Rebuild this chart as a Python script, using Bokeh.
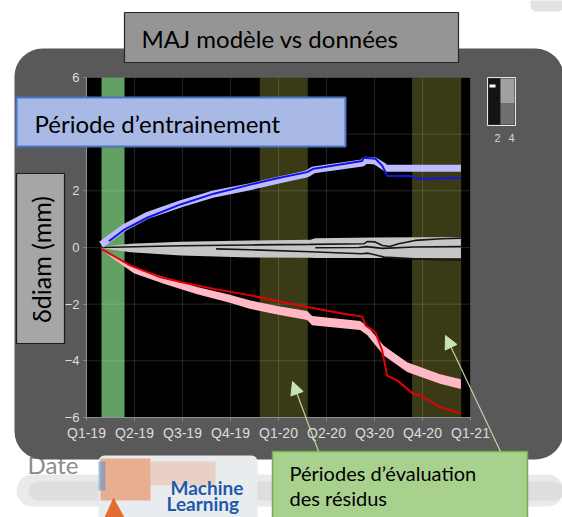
import math
from bokeh.plotting import figure
from bokeh.models import (Range1d, FixedTicker, BoxAnnotation, Label, Arrow, NormalHead,
                          PolyAnnotation)
from bokeh.embed import file_html
from bokeh.resources import INLINE

# ---------------- data (x in months since Jan 2019) ----------------
quarter_ticks = [0, 3, 6, 9, 12, 15, 18, 21, 24]
quarter_labels = ["Q1-19", "Q2-19", "Q3-19", "Q4-19", "Q1-20", "Q2-20", "Q3-20", "Q4-20", "Q1-21"]
y_ticks = [-6, -4, -2, 0, 2, 4, 6]

train_period = [0.94, 2.375]
eval_periods = [[10.83, 13.83], [20.35, 23.42]]

gray_x = [0.92, 2.75, 5.9, 10.25, 14.0, 14.3, 18.0, 23.4]
gray_upper = [0.03, 0.13, 0.2, 0.25, 0.27, 0.33, 0.35, 0.37]
gray_lower = [-0.03, -0.17, -0.28, -0.35, -0.36, -0.37, -0.37, -0.37]

lineA_x = [0.92, 5.9, 10.25, 14.0, 17.33, 17.54, 18.0, 18.5, 18.96, 19.5, 20.54, 22.2, 23.4]
lineA_y = [0.0, 0.06, 0.09, 0.11, 0.13, 0.21, 0.2, 0.07, 0.035, 0.13, 0.25, 0.31, 0.33]
lineB_x = [14.3, 17.0, 17.5, 18.5, 20.5, 23.4]
lineB_y = [-0.01, 0.0, 0.03, -0.03, 0.02, 0.03]
lineC_x = [8.1, 10.25, 14.0, 17.2, 17.6, 18.2, 18.6, 20.5, 22.1, 23.4]
lineC_y = [-0.05, -0.08, -0.15, -0.22, -0.2, -0.28, -0.34, -0.4, -0.43, -0.44]

blue_band_x = [0.92, 2.33, 3.79, 5.88, 7.96, 10.25, 12.0, 13.79, 14.2, 17.23, 17.44, 18.06, 18.6, 18.7, 23.4]
blue_band_y = [0.1, 0.69, 1.13, 1.54, 1.89, 2.15, 2.38, 2.6, 2.74, 2.98, 3.08, 3.05, 2.85, 2.8, 2.8]
blue_line_x = [1.4, 2.33, 3.79, 5.88, 7.96, 10.25, 12.0, 13.79, 14.2, 17.23, 17.33, 18.06, 18.48, 18.69, 18.8, 20.25, 20.67, 23.4]
blue_line_y = [0.22, 0.62, 1.05, 1.52, 1.9, 2.22, 2.45, 2.66, 2.78, 3.05, 3.17, 3.13, 2.89, 2.66, 2.52, 2.52, 2.43, 2.45]

pink_x = [0.92, 1.7, 2.96, 4.83, 6.92, 8.9, 10.25, 12.0, 13.79, 14.1, 17.1, 17.54, 18.58, 20.04, 22.1, 23.4]
pink_upper = [-0.03, -0.29, -0.71, -1.04, -1.39, -1.66, -1.87, -2.07, -2.24, -2.42, -2.59, -2.77, -3.47, -4.05, -4.47, -4.65]
pink_lower = [-0.07, -0.41, -0.91, -1.28, -1.65, -1.94, -2.17, -2.37, -2.56, -2.74, -2.91, -3.09, -3.81, -4.39, -4.81, -4.99]

red_x = [0.92, 1.7, 2.75, 4.63, 5.88, 7.96, 10.25, 12.0, 13.79, 16.08, 17.23, 17.44, 18.06, 18.48, 18.79, 19.42, 20.46, 20.9, 22.1, 23.4]
red_y = [-0.05, -0.3, -0.64, -1.05, -1.22, -1.46, -1.69, -1.9, -2.1, -2.34, -2.44, -2.75, -2.99, -3.64, -4.52, -4.69, -5.19, -5.22, -5.64, -5.85]

title_text = "MAJ modèle vs données"
train_text = "Période d\u2019entrainement"
ylabel_text = "\u03b4diam (mm)"
xlabel_text = "Date"
eval_text = ["Périodes d\u2019évaluation", "des résidus"]
logo_text = ["Machine", "Learning"]

SLIDE_FONT = "Lato"
AXIS_FONT = "Liberation Sans"

# ---------------- layout: the frame is the whole canvas ----------------
W, H = 562, 517
PL, PR, PT, PB = 86, 470, 77, 417          # pixel box of the data area
X0, X1 = quarter_ticks[0], quarter_ticks[-1]
Y0, Y1 = y_ticks[0], y_ticks[-1]
sx = (PR - PL) / (X1 - X0)
sy = (PB - PT) / (Y1 - Y0)
x_range = Range1d(X0 - PL / sx, X1 + (W - PR) / sx)
y_range = Range1d(Y0 - (H - PB) / sy, Y1 + PT / sy)

p = figure(width=W, height=H, x_range=x_range, y_range=y_range,
           output_backend="svg", toolbar_location=None, title=None,
           min_border=0, min_border_left=0, min_border_right=0,
           min_border_top=0, min_border_bottom=0,
           border_fill_color="white", background_fill_color="white", outline_line_color=None)
p.xgrid.visible = False
p.ygrid.visible = False


def cbox(l, r, t, b, fill, alpha=1.0, line=None, lw=1, radius=0, level="overlay"):
    box = BoxAnnotation(left=l, right=r, top=t, bottom=b,
                        left_units="canvas", right_units="canvas",
                        top_units="canvas", bottom_units="canvas",
                        fill_color=fill, fill_alpha=alpha,
                        line_color=line if line else "black", line_width=lw,
                        line_alpha=1.0 if line else 0,
                        border_radius=radius, level=level)
    p.add_layout(box)
    return box


def clabel(x, y, text, size, color="black", font=SLIDE_FONT, style="normal", angle=0,
           align="left", baseline="middle", level="overlay"):
    lab = Label(x=x, y=y, x_units="canvas", y_units="canvas", text=text,
                text_font=font, text_font_size=f"{size}px", text_color=color,
                text_font_style=style, angle=angle, text_align=align,
                text_baseline=baseline, level=level)
    p.add_layout(lab)
    return lab


# ---------------- background layer ----------------
cbox(530, 563, -5, 11, "#e3e3e3", radius=5, level="image")
clabel(27, 464, xlabel_text, 24, color="#8c8c8c", level="image")
cbox(16, 563, 474, 506, "#d6d6d6", alpha=0.5, radius=25, level="image")
cbox(28, 563, 481, 500, "#c4c4c4", alpha=0.3, radius=15, level="image")
cbox(14, 563, 48, 459, "#595959", radius=28, level="image")
p.add_layout(BoxAnnotation(left=X0, right=X1, bottom=Y0, top=Y1, fill_color="black",
                           fill_alpha=1, line_alpha=0, level="image"))
p.add_layout(BoxAnnotation(left=train_period[0], right=train_period[1], bottom=Y0, top=Y1,
                           fill_color="#63a063", fill_alpha=1, line_alpha=0, level="image"))
for a, b in eval_periods:
    p.add_layout(BoxAnnotation(left=a, right=b, bottom=Y0, top=Y1, fill_color="#3b3a16",
                               fill_alpha=1, line_alpha=0, level="image"))

# grid lines inside the data area
p.segment(x0=quarter_ticks, y0=Y0, x1=quarter_ticks, y1=Y1,
          line_color="#ffffff", line_alpha=0.14, line_width=1)
p.segment(x0=X0, y0=y_ticks, x1=X1, y1=y_ticks,
          line_color="#ffffff", line_alpha=0.14, line_width=1)

# ---------------- glyphs ----------------
p.varea(x=gray_x, y1=gray_lower, y2=gray_upper, fill_color="#c6c6c6")
for xs, ys in ((lineA_x, lineA_y), (lineB_x, lineB_y), (lineC_x, lineC_y)):
    p.line(xs, ys, line_color="#151515", line_width=1.6)
p.line(blue_band_x, blue_band_y, line_color="#bcbcfc", line_width=7)
p.line(blue_line_x, blue_line_y, line_color="#1414e6", line_width=2)
p.varea(x=pink_x, y1=pink_lower, y2=pink_upper, fill_color="#ffb8c4")
p.line(red_x, red_y, line_color="#e50000", line_width=2)

# ---------------- axes at the data-area edges ----------------
p.xaxis.fixed_location = Y0
p.xaxis.bounds = (X0, X1)
p.yaxis.fixed_location = X0
p.yaxis.bounds = (Y0, Y1)
p.xaxis.ticker = FixedTicker(ticks=quarter_ticks)
p.xaxis.major_label_overrides = {t: l for t, l in zip(quarter_ticks, quarter_labels)}
p.yaxis.ticker = FixedTicker(ticks=y_ticks)
for ax in (p.xaxis, p.yaxis):
    ax.axis_line_color = "#8f8f8f"
    ax.major_tick_line_color = "#8f8f8f"
    ax.major_tick_out = 3
    ax.major_tick_in = 0
    ax.minor_tick_line_color = None
    ax.major_label_text_color = "#dcdcdc"
    ax.major_label_text_font = AXIS_FONT
    ax.major_label_standoff = 4
p.xaxis.major_label_text_font_size = "14px"
p.yaxis.major_label_text_font_size = "13px"

# ---------------- slide overlays ----------------
cbox(124, 458, 12, 62, "#959595", line="#262626", lw=1.2)
clabel(141, 38, title_text, 24)

cbox(16, 345, 97, 146, "#a9b9e6", line="#4a74c4", lw=2)
clabel(34, 123, train_text, 24)

cbox(16, 64, 173, 343, "#a6a6a6", line="#1a1a1a", lw=1.2)
clabel(40, 259, ylabel_text, 25, angle=math.pi / 2, align="center", baseline="middle")

# small colour-scale thumbnail (top right)
cbox(487, 515, 77, 125, "#3a3a3a", line="#e6e6e6", lw=1)
cbox(488, 500, 78, 124, "#141414")
cbox(500, 514, 78, 103, "#a0a0a0")
cbox(500, 514, 103, 124, "#707070")
cbox(489, 495, 84, 87, "#ffffff")
clabel(497, 137, "2", 11, color="#d6d6d6", font=AXIS_FONT, align="center")
clabel(511, 137, "4", 11, color="#d6d6d6", font=AXIS_FONT, align="center")

# machine learning logo
cbox(98, 257, 455, 530, "#e9ecef", radius=6)
cbox(100, 150, 458, 500, "#e8641e", alpha=0.45)
cbox(150, 215, 461, 485, "#e8641e", alpha=0.2)
cbox(98, 105, 461, 490, "#3c8ad8", alpha=0.45)
p.add_layout(PolyAnnotation(xs=[104, 113, 124], ys=[517, 497, 517], xs_units="canvas",
                            ys_units="canvas", fill_color="#e0601a", fill_alpha=0.9,
                            line_alpha=0, level="overlay"))
clabel(170, 487, logo_text[0], 19, color="#1e5aa8", style="bold")
clabel(166, 503, logo_text[1], 19, color="#1e5aa8", style="bold")

# evaluation periods callout
cbox(272, 527, 451, 530, "#a9d18e", line="#72ae4a", lw=1.5)
clabel(289, 472, eval_text[0], 20)
clabel(289, 497, eval_text[1], 20)
for xs, ys, xe, ye in ((318, 451, 292, 381), (500, 451, 445, 335)):
    p.add_layout(Arrow(x_start=xs, y_start=ys, x_end=xe, y_end=ye,
                       start_units="canvas", end_units="canvas",
                       line_color="#b9d9a3", line_width=1.2,
                       end=NormalHead(size=13, fill_color="#c8e3b6", line_color="#c8e3b6"),
                       level="overlay"))

open("out.html", "w").write(file_html(p, INLINE))
